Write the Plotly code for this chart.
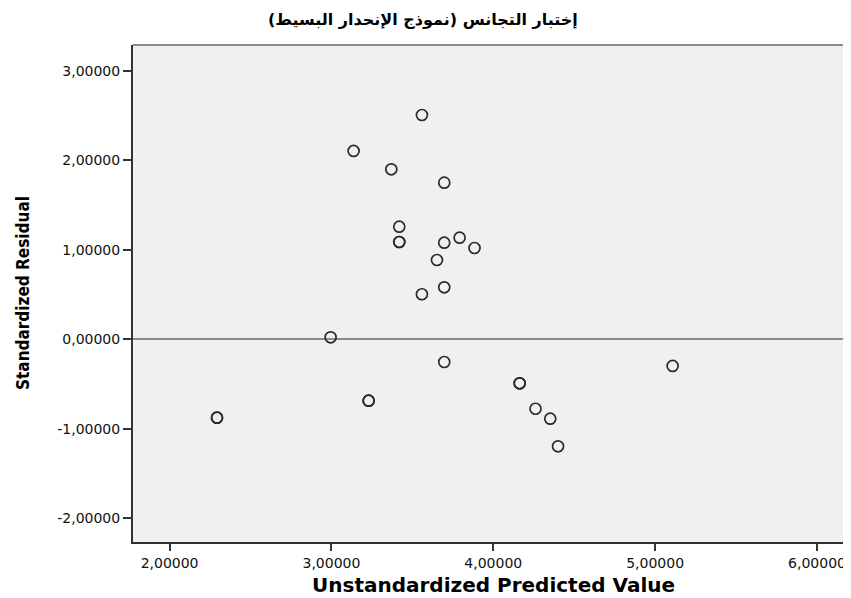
import plotly.graph_objects as go

# Data (Unstandardized Predicted Value vs Standardized Residual)
predicted = [3.559, 3.137, 3.370, 3.697, 3.419, 3.419, 3.419, 3.697, 3.792, 3.884,
             3.652, 3.697, 3.559, 2.995, 3.697, 5.108, 4.163, 4.163, 3.230, 3.230,
             2.293, 2.293, 4.261, 4.352, 4.400]
residual = [2.505, 2.103, 1.898, 1.749, 1.257, 1.086, 1.086, 1.078, 1.134, 1.019,
            0.885, 0.580, 0.502, 0.021, -0.255, -0.299, -0.493, -0.493, -0.687, -0.687,
            -0.877, -0.877, -0.777, -0.888, -1.197]

x_tickvals = [2, 3, 4, 5, 6]
x_ticktext = ["2,00000", "3,00000", "4,00000", "5,00000", "6,00000"]
y_tickvals = [-2, -1, 0, 1, 2, 3]
y_ticktext = ["-2,00000", "-1,00000", "0,00000", "1,00000", "2,00000", "3,00000"]

title_text = "\u200fإختبار التجانس (نموذج الإنحدار البسيط)\u200f"
x_title = "Unstandardized Predicted Value"
y_title = "Standardized Residual"

axis_color = "#333333"
OFF = 8  # page body margin in the browser
W, H = 851 - OFF, 598 - OFF
L, R, T, B = 133 - OFF, 0, 45 - OFF, 598 - 542
pw, ph = W - L - R, H - T - B


def px_x(x):
    return (x - OFF - L) / pw


def px_y(y):
    return (T + ph - (y - OFF)) / ph


fig = go.Figure()
fig.add_trace(go.Scatter(
    x=predicted, y=residual, mode="markers",
    marker=dict(symbol="circle-open", size=11, color="#2a2a2a", line=dict(width=1.7)),
    showlegend=False, hoverinfo="x+y",
))

fig.update_layout(
    width=W, height=H,
    margin=dict(l=L, r=R, t=T, b=B, autoexpand=False),
    paper_bgcolor="white",
    plot_bgcolor="#F0F0F0",
    font=dict(family="DejaVu Sans, Liberation Sans, Arial", color="#000000"),
    annotations=[
        dict(text="<b>" + title_text + "</b>", xref="paper", yref="paper",
             x=px_x(423), y=px_y(19), xanchor="center", yanchor="middle",
             showarrow=False, font=dict(family="DejaVu Sans, Noto Sans", size=16, color="#000000")),
        dict(text="<b>" + x_title + "</b>", xref="paper", yref="paper",
             x=px_x(494), y=px_y(585), xanchor="center", yanchor="middle",
             showarrow=False, font=dict(family="DejaVu Sans", size=20, color="#000000")),
        dict(text="<b>" + y_title + "</b>", xref="paper", yref="paper",
             x=px_x(23), y=px_y(293), xanchor="center", yanchor="middle",
             textangle=-90, showarrow=False,
             font=dict(family="Liberation Sans Narrow, DejaVu Sans Condensed, Liberation Sans",
                       size=17, color="#000000")),
    ],
    shapes=[dict(type="line", xref="paper", yref="paper", x0=0, x1=1, y0=1, y1=1,
                 line=dict(color="#8a8a8a", width=2))],
)

fig.update_xaxes(
    range=[1.774, 6.21], tickvals=x_tickvals, ticktext=x_ticktext,
    showgrid=False, zeroline=False, automargin=False,
    showline=True, linecolor=axis_color, linewidth=2,
    ticks="outside", ticklen=7, tickwidth=1.5, tickcolor=axis_color,
    tickfont=dict(family="DejaVu Sans", size=14, color="#111111"),
)
fig.update_yaxes(
    range=[-2.266, 3.287], tickvals=y_tickvals, ticktext=y_ticktext,
    showgrid=False, automargin=False,
    zeroline=True, zerolinecolor="#8a8a8a", zerolinewidth=2,
    showline=True, linecolor=axis_color, linewidth=2,
    ticks="outside", ticklen=8, tickwidth=1.5, tickcolor=axis_color,
    tickfont=dict(family="DejaVu Sans", size=14, color="#111111"),
)

fig.write_html("out.html")
